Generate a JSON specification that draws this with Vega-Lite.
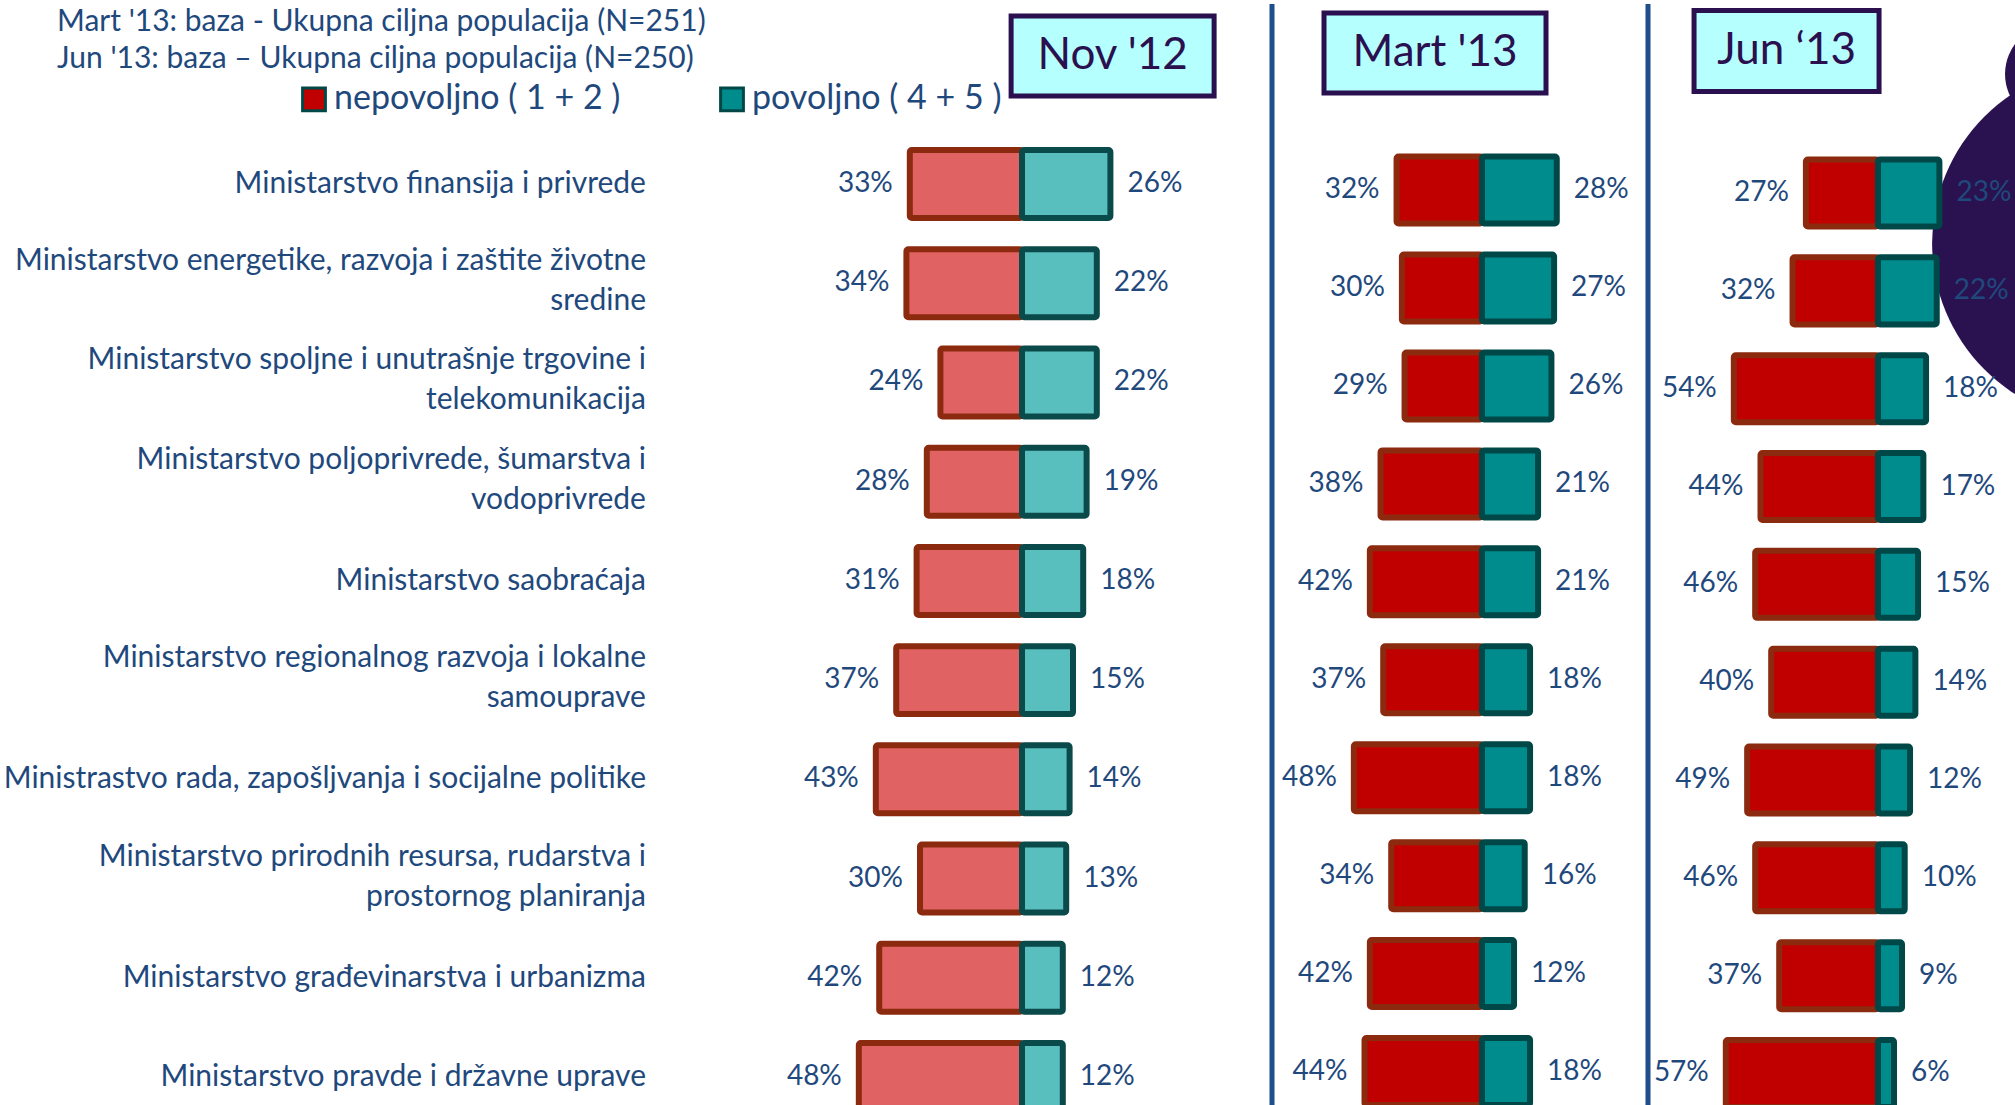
{
  "$schema": "https://vega.github.io/schema/vega-lite/v6.json",
  "padding": 0,
  "background": "white",
  "config": {"view": {"stroke": null}, "font": "Lato"},
  "title": {
    "text": "Mart '13:  baza - Ukupna ciljna populacija (N=251)",
    "subtitle": "Jun '13: baza – Ukupna ciljna populacija (N=250)",
    "anchor": "start", "offset": -73, "dx": 57,
    "font": "Lato", "fontSize": 30, "fontWeight": "normal", "color": "#1F497D",
    "subtitleFont": "Lato", "subtitleFontSize": 30, "subtitleColor": "#1F497D", "subtitlePadding": 7
  },
  "datasets": {
    "nov12": [
      {"ministarstvo": "Ministarstvo finansija i privrede", "nepovoljno": 0.33, "povoljno": 0.26},
      {"ministarstvo": "Ministarstvo energetike, razvoja i zaštite životne\nsredine", "nepovoljno": 0.34, "povoljno": 0.22},
      {"ministarstvo": "Ministarstvo spoljne i unutrašnje trgovine i\ntelekomunikacija", "nepovoljno": 0.24, "povoljno": 0.22},
      {"ministarstvo": "Ministarstvo poljoprivrede, šumarstva i\nvodoprivrede", "nepovoljno": 0.28, "povoljno": 0.19},
      {"ministarstvo": "Ministarstvo saobraćaja", "nepovoljno": 0.31, "povoljno": 0.18},
      {"ministarstvo": "Ministarstvo regionalnog razvoja i lokalne\nsamouprave", "nepovoljno": 0.37, "povoljno": 0.15},
      {"ministarstvo": "Ministrastvo rada, zapošljvanja i socijalne politike", "nepovoljno": 0.43, "povoljno": 0.14},
      {"ministarstvo": "Ministarstvo prirodnih resursa, rudarstva i\nprostornog planiranja", "nepovoljno": 0.30, "povoljno": 0.13},
      {"ministarstvo": "Ministarstvo građevinarstva i urbanizma", "nepovoljno": 0.42, "povoljno": 0.12},
      {"ministarstvo": "Ministarstvo pravde i državne uprave", "nepovoljno": 0.48, "povoljno": 0.12}
    ],
    "mart13": [
      {"ministarstvo": "Ministarstvo finansija i privrede", "nepovoljno": 0.32, "povoljno": 0.28},
      {"ministarstvo": "Ministarstvo energetike, razvoja i zaštite životne\nsredine", "nepovoljno": 0.30, "povoljno": 0.27},
      {"ministarstvo": "Ministarstvo spoljne i unutrašnje trgovine i\ntelekomunikacija", "nepovoljno": 0.29, "povoljno": 0.26},
      {"ministarstvo": "Ministarstvo poljoprivrede, šumarstva i\nvodoprivrede", "nepovoljno": 0.38, "povoljno": 0.21},
      {"ministarstvo": "Ministarstvo saobraćaja", "nepovoljno": 0.42, "povoljno": 0.21},
      {"ministarstvo": "Ministarstvo regionalnog razvoja i lokalne\nsamouprave", "nepovoljno": 0.37, "povoljno": 0.18},
      {"ministarstvo": "Ministrastvo rada, zapošljvanja i socijalne politike", "nepovoljno": 0.48, "povoljno": 0.18},
      {"ministarstvo": "Ministarstvo prirodnih resursa, rudarstva i\nprostornog planiranja", "nepovoljno": 0.34, "povoljno": 0.16},
      {"ministarstvo": "Ministarstvo građevinarstva i urbanizma", "nepovoljno": 0.42, "povoljno": 0.12},
      {"ministarstvo": "Ministarstvo pravde i državne uprave", "nepovoljno": 0.44, "povoljno": 0.18}
    ],
    "jun13": [
      {"ministarstvo": "Ministarstvo finansija i privrede", "nepovoljno": 0.27, "povoljno": 0.23},
      {"ministarstvo": "Ministarstvo energetike, razvoja i zaštite životne\nsredine", "nepovoljno": 0.32, "povoljno": 0.22},
      {"ministarstvo": "Ministarstvo spoljne i unutrašnje trgovine i\ntelekomunikacija", "nepovoljno": 0.54, "povoljno": 0.18},
      {"ministarstvo": "Ministarstvo poljoprivrede, šumarstva i\nvodoprivrede", "nepovoljno": 0.44, "povoljno": 0.17},
      {"ministarstvo": "Ministarstvo saobraćaja", "nepovoljno": 0.46, "povoljno": 0.15},
      {"ministarstvo": "Ministarstvo regionalnog razvoja i lokalne\nsamouprave", "nepovoljno": 0.40, "povoljno": 0.14},
      {"ministarstvo": "Ministrastvo rada, zapošljvanja i socijalne politike", "nepovoljno": 0.49, "povoljno": 0.12},
      {"ministarstvo": "Ministarstvo prirodnih resursa, rudarstva i\nprostornog planiranja", "nepovoljno": 0.46, "povoljno": 0.10},
      {"ministarstvo": "Ministarstvo građevinarstva i urbanizma", "nepovoljno": 0.37, "povoljno": 0.09},
      {"ministarstvo": "Ministarstvo pravde i državne uprave", "nepovoljno": 0.57, "povoljno": 0.06}
    ]
  },
  "spacing": 0,
  "bounds": "flush",
  "resolve": {"scale": {"color": "shared"}, "legend": {"color": "shared"}},
  "hconcat": [
    {
      "width": 572, "height": 1107,
      "data": {"name": "nov12"},
      "resolve": {"scale": {"x": "independent"}},
      "layer": [
        {"layer": [
          {"mark": {"type": "bar", "fill": "#E06262", "stroke": "#8B2A0E", "strokeWidth": 6, "cornerRadius": 2},
           "encoding": {
             "y": {"field": "ministarstvo", "type": "nominal", "title": null,
                   "scale": {"domain": ["Ministarstvo finansija i privrede", "Ministarstvo energetike, razvoja i zaštite životne\nsredine", "Ministarstvo spoljne i unutrašnje trgovine i\ntelekomunikacija", "Ministarstvo poljoprivrede, šumarstva i\nvodoprivrede", "Ministarstvo saobraćaja", "Ministarstvo regionalnog razvoja i lokalne\nsamouprave", "Ministrastvo rada, zapošljvanja i socijalne politike", "Ministarstvo prirodnih resursa, rudarstva i\nprostornog planiranja", "Ministarstvo građevinarstva i urbanizma", "Ministarstvo pravde i državne uprave"], "paddingInner": 0.315, "paddingOuter": 0.736, "align": 1},
                   "axis": {"domain": false, "ticks": false, "grid": false, "title": null, "labels": false, "minExtent": 700, "maxExtent": 700}},
             "x": {"field": "nepovoljno", "type": "quantitative", "scale": {"domain": [-0.7353, 0.9471], "reverse": true, "nice": false, "zero": false}, "axis": null},
             "x2": {"datum": 0}
           }},
          {"mark": {"type": "text", "align": "right", "baseline": "middle", "dx": -17, "font": "Lato", "fontSize": 28, "fill": "#1F497D"},
           "encoding": {
             "y": {"field": "ministarstvo", "type": "nominal", "title": null},
             "x": {"field": "nepovoljno", "type": "quantitative", "axis": null},
             "text": {"field": "nepovoljno", "type": "quantitative", "format": ".0%"}
           }},
          {"transform": [{"filter": "indexof(datum.ministarstvo, '\\n') < 0"}],
           "mark": {"type": "text", "align": "right", "baseline": "middle", "font": "Lato", "fontSize": 30, "fill": "#1F497D"},
           "encoding": {
             "y": {"field": "ministarstvo", "type": "nominal", "title": null},
             "x": {"datum": 1.106, "type": "quantitative", "axis": null},
             "text": {"field": "ministarstvo", "type": "nominal"}
           }},
          {"transform": [{"filter": "indexof(datum.ministarstvo, '\\n') >= 0"}],
           "mark": {"type": "text", "align": "right", "baseline": "line-bottom", "lineBreak": "\n", "lineHeight": 40, "dy": -2, "font": "Lato", "fontSize": 30, "fill": "#1F497D"},
           "encoding": {
             "y": {"field": "ministarstvo", "type": "nominal", "title": null},
             "x": {"datum": 1.106, "type": "quantitative", "axis": null},
             "text": {"field": "ministarstvo", "type": "nominal"}
           }}
        ]},
        {"layer": [
          {"mark": {"type": "bar", "fill": "#58BEBE", "stroke": "#0A4A4A", "strokeWidth": 6, "cornerRadius": 2},
           "encoding": {
             "y": {"field": "ministarstvo", "type": "nominal", "title": null},
             "x": {"field": "povoljno", "type": "quantitative", "scale": {"domain": [-0.9471, 0.7353], "nice": false, "zero": false}, "axis": null},
             "x2": {"datum": 0}
           }},
          {"mark": {"type": "text", "align": "left", "baseline": "middle", "dx": 17, "font": "Lato", "fontSize": 28, "fill": "#1F497D"},
           "encoding": {
             "y": {"field": "ministarstvo", "type": "nominal", "title": null},
             "x": {"field": "povoljno", "type": "quantitative", "axis": null},
             "text": {"field": "povoljno", "type": "quantitative", "format": ".0%"}
           }},
          {"data": {"values": [{"naslov": "Nov '12"}]},
           "mark": {"type": "point", "shape": "M-1,-0.394L1,-0.394L1,0.394L-1,0.394Z", "size": 41209, "filled": true, "fill": "#B5FFFF", "opacity": 1, "stroke": "#2B1050", "strokeWidth": 5, "yOffset": -128},
           "encoding": {
             "y": {"datum": "Ministarstvo finansija i privrede", "type": "nominal", "title": null},
             "x": {"datum": 0.2665, "type": "quantitative", "axis": null}
           }},
          {"data": {"values": [{"naslov": "Nov '12"}]},
           "mark": {"type": "text", "font": "Lato", "fontSize": 44, "fill": "#2B1050", "baseline": "middle", "align": "center", "yOffset": -128},
           "encoding": {
             "y": {"datum": "Ministarstvo finansija i privrede", "type": "nominal", "title": null},
             "x": {"datum": 0.2665, "type": "quantitative", "axis": null},
             "text": {"field": "naslov", "type": "nominal"}
           }}
        ]}
      ]
    },
    {
      "width": 376, "height": 1101,
      "data": {"name": "mart13"},
      "resolve": {"scale": {"x": "independent"}},
      "layer": [
        {"layer": [
          {"mark": {"type": "bar", "stroke": "#8B2A0E", "strokeWidth": 6, "cornerRadius": 2},
           "encoding": {
             "y": {"field": "ministarstvo", "type": "nominal", "title": null, "axis": null,
                   "scale": {"domain": ["Ministarstvo finansija i privrede", "Ministarstvo energetike, razvoja i zaštite životne\nsredine", "Ministarstvo spoljne i unutrašnje trgovine i\ntelekomunikacija", "Ministarstvo poljoprivrede, šumarstva i\nvodoprivrede", "Ministarstvo saobraćaja", "Ministarstvo regionalnog razvoja i lokalne\nsamouprave", "Ministrastvo rada, zapošljvanja i socijalne politike", "Ministarstvo prirodnih resursa, rudarstva i\nprostornog planiranja", "Ministarstvo građevinarstva i urbanizma", "Ministarstvo pravde i državne uprave"], "paddingInner": 0.316, "paddingOuter": 0.779, "align": 1}},
             "x": {"field": "nepovoljno", "type": "quantitative", "scale": {"domain": [-0.6217, 0.7865], "reverse": true, "nice": false, "zero": false}, "axis": null},
             "x2": {"datum": 0},
             "color": {"datum": "nepovoljno ( 1 + 2 )", "type": "nominal",
                       "scale": {"domain": ["nepovoljno ( 1 + 2 )", "povoljno ( 4 + 5 )"], "range": ["#C00000", "#008C8C"]},
                       "legend": {"title": null, "orient": "none", "legendX": -403, "legendY": 78, "direction": "horizontal", "symbolType": "square", "symbolSize": 520, "symbolStrokeWidth": 3, "symbolStrokeColor": "#5E2418", "labelFont": "Lato", "labelFontSize": 34, "labelColor": "#1F497D", "labelOffset": 3, "columnPadding": 93, "labelLimit": 600}}
           }},
          {"mark": {"type": "text", "align": "right", "baseline": "middle", "dx": -17, "font": "Lato", "fontSize": 28, "fill": "#1F497D"},
           "encoding": {
             "y": {"field": "ministarstvo", "type": "nominal", "title": null, "axis": null},
             "x": {"field": "nepovoljno", "type": "quantitative", "axis": null},
             "text": {"field": "nepovoljno", "type": "quantitative", "format": ".0%"}
           }}
        ]},
        {"layer": [
          {"mark": {"type": "bar", "stroke": "#004747", "strokeWidth": 6, "cornerRadius": 2},
           "encoding": {
             "y": {"field": "ministarstvo", "type": "nominal", "title": null, "axis": null},
             "x": {"field": "povoljno", "type": "quantitative", "scale": {"domain": [-0.7865, 0.6217], "nice": false, "zero": false}, "axis": null},
             "x2": {"datum": 0},
             "color": {"datum": "povoljno ( 4 + 5 )", "type": "nominal"}
           }},
          {"mark": {"type": "text", "align": "left", "baseline": "middle", "dx": 17, "font": "Lato", "fontSize": 28, "fill": "#1F497D"},
           "encoding": {
             "y": {"field": "ministarstvo", "type": "nominal", "title": null, "axis": null},
             "x": {"field": "povoljno", "type": "quantitative", "axis": null},
             "text": {"field": "povoljno", "type": "quantitative", "format": ".0%"}
           }},
          {"data": {"values": [{"naslov": "Mart '13"}]},
           "mark": {"type": "rule", "stroke": "#1F4E8C", "strokeWidth": 5},
           "encoding": {"x": {"datum": -0.7865, "type": "quantitative", "axis": null}}},
          {"data": {"values": [{"naslov": "Mart '13"}]},
           "mark": {"type": "point", "shape": "M-1,-0.36L1,-0.36L1,0.36L-1,0.36Z", "size": 49284, "filled": true, "fill": "#B5FFFF", "opacity": 1, "stroke": "#2B1050", "strokeWidth": 5, "yOffset": -137},
           "encoding": {
             "y": {"datum": "Ministarstvo finansija i privrede", "type": "nominal", "title": null, "axis": null},
             "x": {"datum": -0.176, "type": "quantitative", "axis": null}
           }},
          {"data": {"values": [{"naslov": "Mart '13"}]},
           "mark": {"type": "text", "font": "Lato", "fontSize": 44, "fill": "#2B1050", "baseline": "middle", "align": "center", "yOffset": -137},
           "encoding": {
             "y": {"datum": "Ministarstvo finansija i privrede", "type": "nominal", "title": null, "axis": null},
             "x": {"datum": -0.176, "type": "quantitative", "axis": null},
             "text": {"field": "naslov", "type": "nominal"}
           }}
        ]}
      ]
    },
    {
      "width": 367, "height": 1103,
      "data": {"name": "jun13"},
      "resolve": {"scale": {"x": "independent"}},
      "layer": [
        {"layer": [
          {"mark": {"type": "bar", "stroke": "#8B2A0E", "strokeWidth": 6, "cornerRadius": 2},
           "encoding": {
             "y": {"field": "ministarstvo", "type": "nominal", "title": null, "axis": null,
                   "scale": {"domain": ["Ministarstvo finansija i privrede", "Ministarstvo energetike, razvoja i zaštite životne\nsredine", "Ministarstvo spoljne i unutrašnje trgovine i\ntelekomunikacija", "Ministarstvo poljoprivrede, šumarstva i\nvodoprivrede", "Ministarstvo saobraćaja", "Ministarstvo regionalnog razvoja i lokalne\nsamouprave", "Ministrastvo rada, zapošljvanja i socijalne politike", "Ministarstvo prirodnih resursa, rudarstva i\nprostornog planiranja", "Ministarstvo građevinarstva i urbanizma", "Ministarstvo pravde i državne uprave"], "paddingInner": 0.315, "paddingOuter": 0.795, "align": 1}},
             "x": {"field": "nepovoljno", "type": "quantitative", "scale": {"domain": [-0.5131, 0.8614], "reverse": true, "nice": false, "zero": false}, "axis": null},
             "x2": {"datum": 0},
             "color": {"datum": "nepovoljno ( 1 + 2 )", "type": "nominal"}
           }},
          {"mark": {"type": "text", "align": "right", "baseline": "middle", "dx": -17, "font": "Lato", "fontSize": 28, "fill": "#1F497D"},
           "encoding": {
             "y": {"field": "ministarstvo", "type": "nominal", "title": null, "axis": null},
             "x": {"field": "nepovoljno", "type": "quantitative", "axis": null},
             "text": {"field": "nepovoljno", "type": "quantitative", "format": ".0%"}
           }}
        ]},
        {"layer": [
          {"data": {"values": [{"oblik": "krug"}]},
           "mark": {"type": "point", "shape": "circle", "filled": true, "fill": "#2A1250", "opacity": 1, "size": 128164, "strokeWidth": 0, "yOffset": 50},
           "encoding": {
             "y": {"datum": "Ministarstvo finansija i privrede", "type": "nominal", "title": null, "axis": null},
             "x": {"datum": 0.873, "type": "quantitative", "scale": {"domain": [-0.8614, 0.5131], "nice": false, "zero": false}, "axis": null}
           }},
          {"data": {"values": [{"oblik": "krug"}]},
           "mark": {"type": "point", "shape": "circle", "filled": true, "fill": "#2A1250", "opacity": 1, "size": 10000, "strokeWidth": 0, "yOffset": -119},
           "encoding": {
             "y": {"datum": "Ministarstvo finansija i privrede", "type": "nominal", "title": null, "axis": null},
             "x": {"datum": 0.663, "type": "quantitative", "axis": null}
           }},
          {"mark": {"type": "bar", "stroke": "#004747", "strokeWidth": 6, "cornerRadius": 2},
           "encoding": {
             "y": {"field": "ministarstvo", "type": "nominal", "title": null, "axis": null},
             "x": {"field": "povoljno", "type": "quantitative", "axis": null},
             "x2": {"datum": 0},
             "color": {"datum": "povoljno ( 4 + 5 )", "type": "nominal"}
           }},
          {"mark": {"type": "text", "align": "left", "baseline": "middle", "dx": 17, "font": "Lato", "fontSize": 28, "fill": "#1F497D"},
           "encoding": {
             "y": {"field": "ministarstvo", "type": "nominal", "title": null, "axis": null},
             "x": {"field": "povoljno", "type": "quantitative", "axis": null},
             "text": {"field": "povoljno", "type": "quantitative", "format": ".0%"}
           }},
          {"data": {"values": [{"naslov": "Jun ‘13"}]},
           "mark": {"type": "rule", "stroke": "#1F4E8C", "strokeWidth": 5},
           "encoding": {"x": {"datum": -0.8614, "type": "quantitative", "axis": null}}},
          {"data": {"values": [{"naslov": "Jun ‘13"}]},
           "mark": {"type": "point", "shape": "M-1,-0.438L1,-0.438L1,0.438L-1,0.438Z", "size": 34225, "filled": true, "fill": "#B5FFFF", "opacity": 1, "stroke": "#2B1050", "strokeWidth": 5, "yOffset": -142},
           "encoding": {
             "y": {"datum": "Ministarstvo finansija i privrede", "type": "nominal", "title": null, "axis": null},
             "x": {"datum": -0.3425, "type": "quantitative", "axis": null}
           }},
          {"data": {"values": [{"naslov": "Jun ‘13"}]},
           "mark": {"type": "text", "font": "Lato", "fontSize": 44, "fill": "#2B1050", "baseline": "middle", "align": "center", "yOffset": -142},
           "encoding": {
             "y": {"datum": "Ministarstvo finansija i privrede", "type": "nominal", "title": null, "axis": null},
             "x": {"datum": -0.3425, "type": "quantitative", "axis": null},
             "text": {"field": "naslov", "type": "nominal"}
           }}
        ]}
      ]
    }
  ]
}
